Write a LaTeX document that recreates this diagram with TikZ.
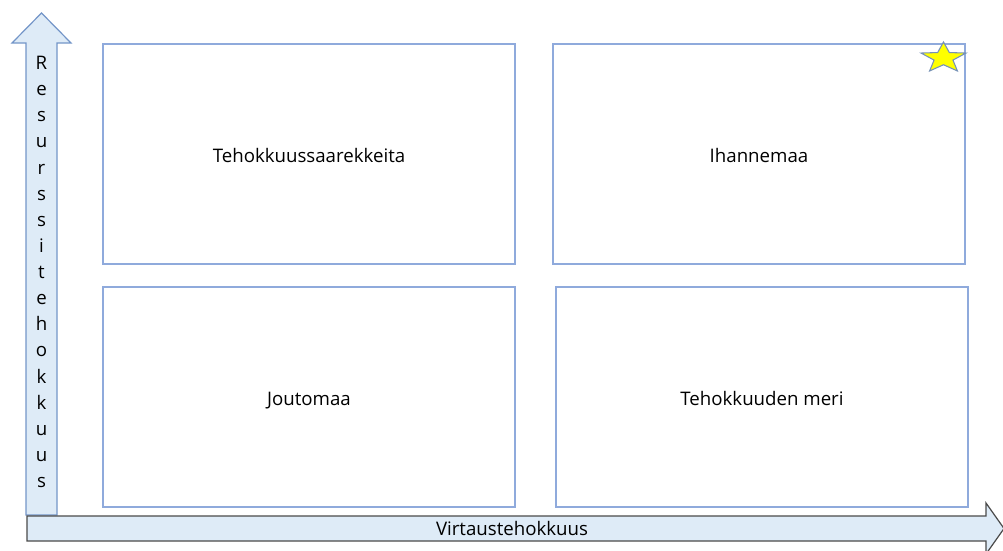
\documentclass[tikz,border=0pt]{standalone}
\usepackage{fontspec}
\setmainfont{Open Sans}
\usepackage{xcolor}
\usetikzlibrary{positioning, calc}
\definecolor{boxblue}{HTML}{8FAADC}
\definecolor{arrowfill}{HTML}{DEEBF7}
\definecolor{arrowline}{HTML}{7395C8}
\definecolor{axisgray}{HTML}{4A4A4A}
\definecolor{staryellow}{HTML}{FFFF00}
\tikzset{%
  quadrant/.style={draw=boxblue, line width=0.9pt, rectangle, minimum width=309pt,
    minimum height=165pt, inner sep=0pt, outer sep=0pt, text height=14pt, text depth=1.5pt,
    font=\fontsize{14pt}{17pt}\selectfont},
  yaxis/.style={draw=arrowline, fill=arrowfill, line width=0.9pt, line join=miter},
  xaxis/.style={draw=axisgray, fill=arrowfill, line width=0.9pt, line join=miter},
  axis label/.style={inner sep=0pt, font=\fontsize{14pt}{19.6pt}\selectfont},
  star/.style={draw=arrowline!80!gray, fill=staryellow, line width=0.8pt}
}

\begin{document}
\begin{tikzpicture}[x=0.75pt, y=-0.75pt]
  \useasboundingbox (0,0) rectangle (1003,550);

  % axes
  \draw[yaxis] (26,515) -- (26,43) -- (12,43) -- (41.5,13) -- (71,43) -- (57,43) -- (57,515) -- cycle;
  \draw[xaxis] (27,516) -- (986,516) -- (986,503) -- (1004,528.5) -- (986,554) -- (986,541) -- (27,541) -- cycle;

  \node[axis label, align=center] (ylab) at (41.5,272)
    {R\\e\\s\\u\\r\\s\\s\\i\\t\\e\\h\\o\\k\\k\\u\\u\\s};
  \node[axis label] (xlab) at (512,528.5) {Virtaustehokkuus};

  % quadrants
  \node[quadrant] (tl) at (309,154) {Tehokkuussaarekkeita};
  \node[quadrant, right=28.5pt of tl] (tr) {Ihannemaa};
  \node[quadrant, below=17.25pt of tl] (bl) {Joutomaa};
  \node[quadrant, right=30.75pt of bl] (br) {Tehokkuuden meri};

  % star
  \draw[star] plot[samples at={0,...,9}, variable=\k]
    ({943.5 + 23.66*(1 - 0.58*mod(\k,2))*sin(36*\k)}, {58 - 16.03*(1 - 0.58*mod(\k,2))*cos(36*\k)}) -- cycle;
\end{tikzpicture}
\end{document}
